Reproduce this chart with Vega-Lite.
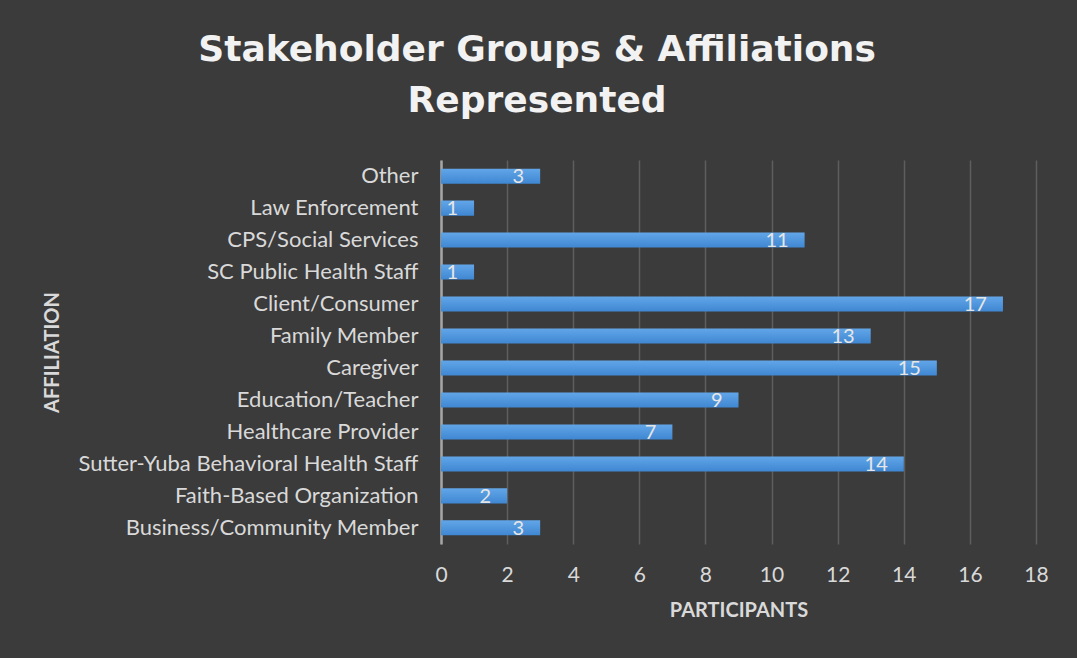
{
  "$schema": "https://vega.github.io/schema/vega-lite/v6.json",
  "width": 595,
  "height": 384,
  "autosize": {"type": "none"},
  "padding": {"left": 441, "top": 160, "right": 41, "bottom": 114},
  "background": "#3b3b3b",
  "title": {
    "text": ["Stakeholder Groups & Affiliations", "Represented"],
    "anchor": "middle",
    "frame": "bounds",
    "color": "#f2f2f2",
    "font": "DejaVu Sans",
    "fontSize": 36,
    "fontWeight": "bold",
    "lineHeight": 51,
    "offset": 40,
    "dx": -8
  },
  "data": {
    "values": [
      {"affiliation": "Other", "participants": 3},
      {"affiliation": "Law Enforcement", "participants": 1},
      {"affiliation": "CPS/Social Services", "participants": 11},
      {"affiliation": "SC Public Health Staff", "participants": 1},
      {"affiliation": "Client/Consumer", "participants": 17},
      {"affiliation": "Family Member", "participants": 13},
      {"affiliation": "Caregiver", "participants": 15},
      {"affiliation": "Education/Teacher", "participants": 9},
      {"affiliation": "Healthcare Provider", "participants": 7},
      {"affiliation": "Sutter-Yuba Behavioral Health Staff", "participants": 14},
      {"affiliation": "Faith-Based Organization", "participants": 2},
      {"affiliation": "Business/Community Member", "participants": 3}
    ]
  },
  "encoding": {
    "y": {
      "field": "affiliation",
      "type": "nominal",
      "sort": null,
      "scale": {"paddingInner": 0.53, "paddingOuter": 0.27},
      "axis": {
        "title": "AFFILIATION",
        "titleFont": "Lato",
        "titleFontSize": 20,
        "titleFontWeight": "bold",
        "titleColor": "#d9d9d9",
        "titleX": -389,
        "titleY": 192,
        "titleAlign": "center",
        "titleBaseline": "middle",
        "titleAngle": 270,
        "labelFont": "Lato",
        "labelFontSize": 22,
        "labelColor": "#d9d9d9",
        "labelPadding": 23,
        "labelLimit": 0,
        "ticks": false,
        "domainColor": "#a6a6a6",
        "domainWidth": 2.5,
        "grid": false
      }
    },
    "x": {
      "field": "participants",
      "type": "quantitative",
      "scale": {"domain": [0, 18], "nice": false},
      "axis": {
        "title": "PARTICIPANTS",
        "titleFont": "Lato",
        "titleFontSize": 20,
        "titleFontWeight": "bold",
        "titleColor": "#d9d9d9",
        "titlePadding": 15,
        "labelFont": "Lato",
        "labelFontSize": 21,
        "labelColor": "#d9d9d9",
        "labelPadding": 20,
        "labelFlush": false,
        "values": [0, 2, 4, 6, 8, 10, 12, 14, 16, 18],
        "ticks": false,
        "domain": false,
        "grid": true,
        "gridColor": "#5e5e5e",
        "gridWidth": 1.5
      }
    }
  },
  "layer": [
    {
      "mark": {
        "type": "bar",
        "color": {
          "gradient": "linear",
          "x1": 0, "y1": 0, "x2": 0, "y2": 1,
          "stops": [
            {"offset": 0, "color": "#62a6e8"},
            {"offset": 1, "color": "#3f87d2"}
          ]
        }
      }
    },
    {
      "mark": {
        "type": "text",
        "align": "right",
        "baseline": "middle",
        "dx": -16,
        "dy": 1,
        "font": "Lato",
        "fontSize": 20,
        "color": "#e6e6e6"
      },
      "encoding": {
        "text": {"field": "participants", "type": "quantitative"}
      }
    }
  ],
  "config": {
    "view": {"stroke": null}
  }
}
